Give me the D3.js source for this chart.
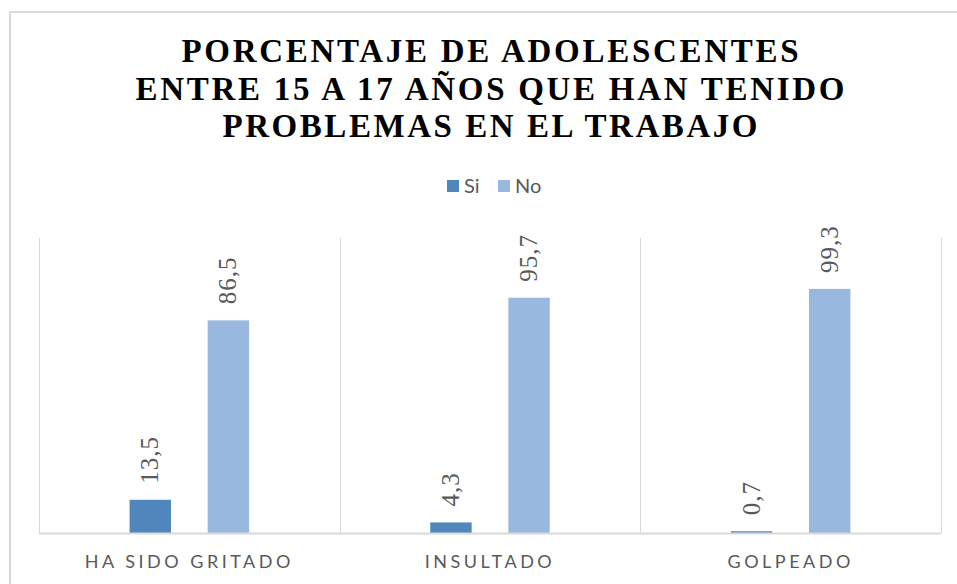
<!DOCTYPE html>
<html>
<head>
<meta charset="utf-8">
<script src="https://cdn.jsdelivr.net/npm/d3@7"></script>
<style>
  body { margin: 0; background: #fff; }
  svg { display: block; }
</style>
</head>
<body>
<div id="chart"></div>
<script>
const categories = ["HA SIDO GRITADO", "INSULTADO", "GOLPEADO"];
const seriesNames = ["Si", "No"];
const siValues = [13.5, 4.3, 0.7];
const noValues = [86.5, 95.7, 99.3];
const titleLines = ["PORCENTAJE DE ADOLESCENTES", "ENTRE 15 A 17 AÑOS QUE HAN TENIDO", "PROBLEMAS EN EL TRABAJO"];

const width = 957, height = 584;
const plot = {left: 39, right: 941, top: 238, bottom: 533};
const colors = {Si: "#4f87bd", No: "#98b8df"};

let svg = d3.select("#chart")
    .append("svg")
    .attr("width", width)
    .attr("height", height);

// chart frame
svg.append("rect")
    .attr("x", 10).attr("y", 12)
    .attr("width", 980).attr("height", 620)
    .attr("fill", "none")
    .attr("stroke", "#d9d9d9")
    .attr("stroke-width", 2);

// title
let titleWidths = [617, 709, 535];
let titleBase = [62, 100, 137];
svg.append("g").selectAll("text")
    .data(titleLines)
    .enter()
    .append("text")
    .attr("x", 490)
    .attr("y", (d, i) => titleBase[i])
    .attr("text-anchor", "middle")
    .attr("textLength", (d, i) => titleWidths[i])
    .attr("lengthAdjust", "spacing")
    .style("font-family", "'Liberation Serif', 'Times New Roman', serif")
    .style("font-weight", "bold")
    .style("font-size", "33px")
    .style("fill", "#000")
    .text(d => d);

// legend
let legend = svg.append("g");
let legendX = {Si: 447, No: 498};
seriesNames.forEach(function(s) {
    legend.append("rect")
        .attr("x", legendX[s]).attr("y", 180)
        .attr("width", 12).attr("height", 12)
        .attr("fill", colors[s]);
    legend.append("text")
        .attr("x", legendX[s] + 17).attr("y", 193)
        .style("font-family", "Lato, 'Open Sans', sans-serif")
        .style("font-size", "20px")
        .style("fill", "#595959")
        .text(s);
});

let x0 = d3.scaleBand()
    .domain(categories)
    .range([plot.left, plot.right]);

let x1 = d3.scaleBand()
    .domain(seriesNames)
    .range([0, x0.bandwidth()])
    .paddingInner(0.47)
    .paddingOuter(1.16);

let y = d3.scaleLinear()
    .domain([0, 120])
    .range([plot.bottom, plot.top]);

// category dividers
let grid = svg.append("g");
let edges = categories.map(c => x0(c)).concat([plot.right]);
grid.selectAll("line")
    .data(edges)
    .enter()
    .append("line")
    .attr("x1", d => Math.round(d) + 0.5)
    .attr("x2", d => Math.round(d) + 0.5)
    .attr("y1", plot.top)
    .attr("y2", plot.bottom)
    .attr("stroke", "#d9d9d9");

let data = [];
categories.forEach(function(c, i) {
    data.push({cat: c, s: "Si", v: siValues[i]});
    data.push({cat: c, s: "No", v: noValues[i]});
});

svg.append("g").selectAll("rect")
    .data(data)
    .enter()
    .append("rect")
    .attr("x", d => x0(d.cat) + x1(d.s))
    .attr("y", d => y(d.v))
    .attr("width", x1.bandwidth())
    .attr("height", d => y(0) - y(d.v))
    .attr("fill", d => colors[d.s]);

// baseline
svg.append("line")
    .attr("x1", plot.left).attr("x2", plot.right)
    .attr("y1", plot.bottom + 0.5).attr("y2", plot.bottom + 0.5)
    .attr("stroke", "#d9d9d9")
    .attr("stroke-width", 2);

// value labels
svg.append("g").selectAll("text")
    .data(data)
    .enter()
    .append("text")
    .attr("transform", d => `translate(${x0(d.cat) + x1(d.s) + x1.bandwidth() / 2 + 8},${y(d.v) - 16}) rotate(-90)`)
    .style("font-family", "'Liberation Serif', 'Times New Roman', serif")
    .style("font-size", "25px")
    .style("letter-spacing", "1px")
    .style("fill", "#595959")
    .text(d => String(d.v).replace(".", ","));

// category labels
svg.append("g").selectAll("text")
    .data(categories)
    .enter()
    .append("text")
    .attr("x", d => x0(d) + x0.bandwidth() / 2)
    .attr("y", 568)
    .attr("text-anchor", "middle")
    .style("font-family", "Lato, 'Open Sans', sans-serif")
    .style("font-size", "18px")
    .style("letter-spacing", "3.5px")
    .style("fill", "#595959")
    .text(d => d);
</script>
</body>
</html>
